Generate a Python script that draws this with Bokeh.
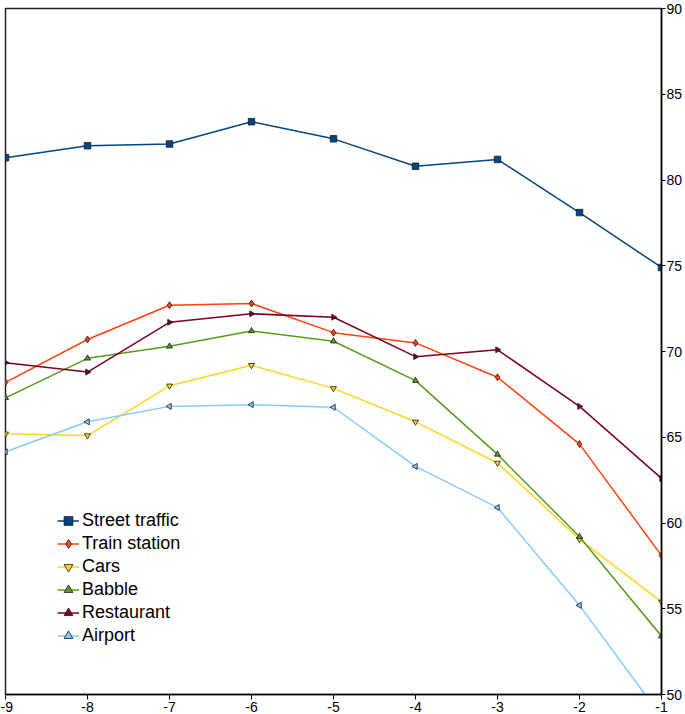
import math
from bokeh.plotting import figure
from bokeh.models import Range1d, FixedTicker, Legend, LegendItem
from bokeh.embed import file_html
from bokeh.resources import INLINE

snr = [-9, -8, -7, -6, -5, -4, -3, -2, -1]
street_traffic = [81.3, 82.0, 82.1, 83.4, 82.4, 80.8, 81.2, 78.1, 74.9]
train_station = [68.2, 70.7, 72.7, 72.8, 71.1, 70.5, 68.5, 64.6, 58.1]
cars = [65.2, 65.1, 68.0, 69.2, 67.85, 65.9, 63.5, 59.05, 55.4]
babble = [67.3, 69.6, 70.3, 71.2, 70.6, 68.3, 64.0, 59.2, 53.4]
restaurant = [69.35, 68.8, 71.7, 72.2, 72.0, 69.7, 70.1, 66.8, 62.6]
airport = [64.15, 65.9, 66.8, 66.9, 66.75, 63.3, 60.9, 55.2, 48.7]

x_ticks = [-9, -8, -7, -6, -5, -4, -3, -2, -1]
x_tick_labels = ["-9", "-8", "-7", "-6", "-5", "-4", "-3", "-2", "-1"]
y_ticks = [50, 55, 60, 65, 70, 75, 80, 85, 90]

series = [
    ("Street traffic", street_traffic, "#004586", "square", 0.0, 6.5),
    ("Train station", train_station, "#ff420e", "diamond", 0.0, 7),
    ("Cars", cars, "#ffd320", "inverted_triangle", 0.0, 6),
    ("Babble", babble, "#579d1c", "triangle", 0.0, 6),
    ("Restaurant", restaurant, "#7e0021", "triangle", -math.pi / 2, 6),
    ("Airport", airport, "#83caff", "triangle", math.pi / 2, 6),
]

FONT = "Liberation Sans"

p = figure(width=685, height=714, x_range=Range1d(-9, -1), y_range=Range1d(50, 90),
           output_backend="svg", toolbar_location=None, y_axis_location="right",
           title=None, min_border_left=5, min_border_top=8, min_border_right=0,
           min_border_bottom=0)
p.outline_line_color = "#222222"
p.outline_line_width = 1.5
p.grid.visible = False
p.background_fill_color = "white"

for ax, ticks in ((p.xaxis[0], x_ticks), (p.yaxis[0], y_ticks)):
    ax.ticker = FixedTicker(ticks=ticks)
    ax.minor_tick_line_color = None
    ax.major_tick_in = 0
    ax.major_tick_out = 5
    ax.major_label_standoff = 2
    ax.axis_line_color = "black"
    ax.axis_line_width = 1.5
    ax.major_tick_line_color = "black"
    ax.major_label_text_font = FONT
    ax.major_label_text_font_size = "14px"
    ax.major_label_text_color = "black"

p.xaxis[0].major_label_overrides = {t: lab for t, lab in zip(x_ticks, x_tick_labels)}
p.yaxis[0].major_tick_out = 4
p.yaxis[0].major_label_standoff = 1

items = []
for name, vals, color, marker, angle, size in series:
    l = p.line(snr, vals, line_color=color, line_width=1.5)
    s = p.scatter(snr, vals, marker=marker, angle=angle, size=size, fill_color=color,
                  line_color="#1a1a1a", line_width=0.8)
    items.append(LegendItem(label=name, renderers=[l, s]))

legend = Legend(items=items, location=(52, 47), padding=0, margin=0,
                glyph_width=22, glyph_height=23, label_height=23, spacing=0,
                label_standoff=3, label_text_font=FONT, label_text_font_size="18px",
                label_text_color="black", border_line_color=None,
                background_fill_alpha=0)
p.add_layout(legend, "center")

open("out.html", "w").write(file_html(p, INLINE))
